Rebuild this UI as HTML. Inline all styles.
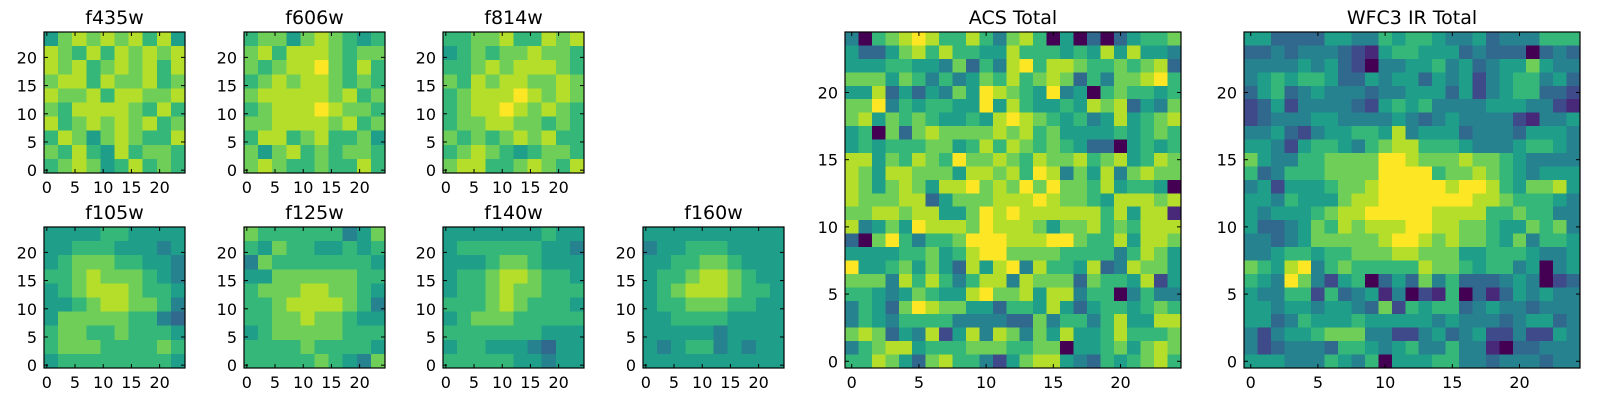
<!DOCTYPE html>
<html><head><meta charset="utf-8">
<style>
body{margin:0;background:#fff;width:1600px;height:400px;overflow:hidden}
svg{display:block}
text{font-family:"DejaVu Sans","Liberation Sans",sans-serif;fill:#000}
</style></head>
<body>
<svg id="fig" width="1600" height="400" viewBox="0 0 1600 400" xmlns="http://www.w3.org/2000/svg"></svg>
<script>
// ---- data (rows listed top -> bottom, digits 0-9 on viridis scale) ----
const panelNames = ["f435w","f606w","f814w","f105w","f125w","f140w","f160w","ACS Total","WFC3 IR Total"];
const tickValues = [0,5,10,15,20];
const f435w = ["5787878685","8768687878","8786787868","7886877867","8778688778","7688887686","8678787867","6875787668","7686586776","6787568676"];
const f606w = ["6775787656","7868887677","7678897686","6787887676","7888887867","6788898776","7788887867","6886786675","7578676776","7876676686"];
const f814w = ["6677866878","5676778776","6678788876","7687887787","6788898787","6788987876","6778877676","7676787866","6787656776","7886678768"];
const f105w = ["5555665555","5566655545","5677766554","6678777654","5678887665","5567887764","5777776643","6776676665","6777666676","5666666665"];
const f125w = ["7666666457","6576655656","4766666665","5577777766","6777887765","6678888764","6677877655","5677777666","6666766665","6666676547"];
const f140w = ["5555555655","5666666554","5556776555","5667887665","5667877666","6667876665","5677766666","6666666555","5665554355","6666655455"];
const f160w = ["5555555555","4556665555","5566776555","5667887655","5678887665","5667776655","5566665555","5555545555","5456645455","5555555555"];
const acsTotal = ["4067898668647860503035667","5335786866558666565858554","5556655473648968876676783","7775764645768678736477896","5583535475987659450676656","7794656655958655658783547","7857676556589876564585678","5607378777787867555565676","5656667756868767653305656","8857687697787687786785687","8758877758878698475847877","8757875889787979776856650","8777883577788898776588878","7788788557989888888685881","8457598887988875778676888","3079646679998889976685887","5555667568997777666646875","9556757538589486658348775","7774868646884877737665825","6654576558977858846604644","4653798775536658535665676","4654666644443374664685588","7873548258487475855686667","4678856667776677055675787","6687537866425788543656786"];
const wfc3Total = ["5533335544656654453444666","3343444321566555343330343","4444545320445564534557544","4565665335455354524566453","3563454443445553524566332","2352444432565644445554421","2344455444454345444421445","4453245566584555344435554","5542566546788666544456654","7544667777998777877654444","6346667777999967787654555","4525556778999998998657785","5546555788999999988766654","5455567889999988886676644","5334576878889988776557674","4434577777899878776574665","4456656677788777556665445","7658946766666877656645045","6549742560353746333454023","5446626345140216031354544","5545545543726566345443444","5534655565555545444345534","4245567774422453452242254","4234443665456446441033444","5554446546055566443444344"];
const panelData = [f435w,f606w,f814w,f105w,f125w,f140w,f160w,acsTotal,wfc3Total];
</script>
<script>
const NS="http://www.w3.org/2000/svg";
const svg=document.getElementById('fig');
const VIR=[[68,1,84],[72,40,120],[62,74,137],[49,104,142],[38,130,142],[31,158,137],[53,183,121],[110,206,88],[181,222,43],[253,231,37]];
function viridis(t){t=Math.max(0,Math.min(1,t))*9;const i=Math.min(8,Math.floor(t)),f=t-i;const a=VIR[i],b=VIR[i+1];
 return 'rgb('+a.map((v,k)=>Math.round(v+(b[k]-v)*f)).join(',')+')';}
function el(tag,attrs,parent){const e=document.createElementNS(NS,tag);for(const k in attrs)e.setAttribute(k,attrs[k]);(parent||svg).appendChild(e);return e;}
const layout=[[44,32,141],[244,32,141],[443,32,141],[44,227,141],[244,227,141],[443,227,141],[643,227,141],[845,32,336],[1244,32,336]];
panelData.forEach((grid,p)=>{
  const [x0,y0,S]=layout[p];
  const g=el('g',{});
  
  
  const n=grid.length, cw=S/n;
  grid.forEach((row,r)=>{
    for(let c=0;c<row.length;c++){
      const rc=el('rect',{x:(x0+c*cw).toFixed(2),y:(y0+r*cw).toFixed(2),width:(cw+0.6).toFixed(2),height:(cw+0.6).toFixed(2),fill:viridis(+row[c]/9),'shape-rendering':'crispEdges'},g);
      
      
    }
  });
  const fr=el('rect',{x:x0,y:y0,width:S,height:S,fill:'none',stroke:'#000','stroke-width':1.2},g);
  
  
  const u=S/25; const fs=16;
  tickValues.forEach(v=>{
    const px=x0+(v+0.5)*u, py=y0+S-(v+0.5)*u;
    el('line',{x1:px,y1:y0+S,x2:px,y2:y0+S-4,stroke:'#000'},g);
    el('line',{x1:px,y1:y0,x2:px,y2:y0+4,stroke:'#000'},g);
    el('line',{x1:x0,y1:py,x2:x0+4,y2:py,stroke:'#000'},g);
    el('line',{x1:x0+S,y1:py,x2:x0+S-4,y2:py,stroke:'#000'},g);
    const tx=el('text',{x:px,y:y0+S+20,'text-anchor':'middle','font-size':fs},g);
    tx.textContent=v;
    
    
    const ty=el('text',{x:x0-7,y:py+6,'text-anchor':'end','font-size':fs},g);
    ty.textContent=v;
    
    
  });
  const t=el('text',{x:x0+S/2,y:y0-8,'text-anchor':'middle','font-size':19},g);
  t.textContent=panelNames[p];
  
  
});
</script>
</body></html>
